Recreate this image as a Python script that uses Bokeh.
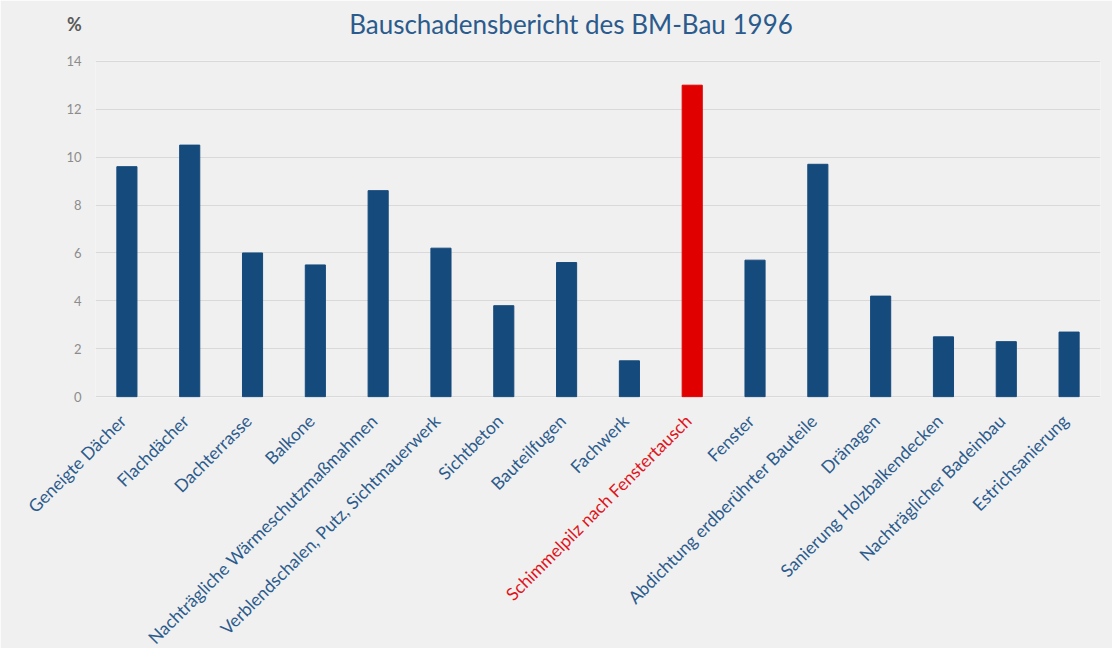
import math
from bokeh.plotting import figure
from bokeh.models import ColumnDataSource, FactorRange, Range1d, FixedTicker
from bokeh.core.properties import value
from bokeh.embed import file_html
from bokeh.resources import INLINE

categories = [
    "Geneigte Dächer", "Flachdächer", "Dachterrasse", "Balkone",
    "Nachträgliche Wärmeschutzmaßmahmen", "Verblendschalen, Putz, Sichtmauerwerk",
    "Sichtbeton", "Bauteilfugen", "Fachwerk", "Schimmelpilz nach Fenstertausch",
    "Fenster", "Abdichtung erdberührter Bauteile", "Dränagen",
    "Sanierung Holzbalkendecken", "Nachträglicher Badeinbau", "Estrichsanierung",
]
values = [9.6, 10.5, 6.0, 5.5, 8.6, 6.2, 3.8, 5.6, 1.5, 13.0, 5.7, 9.7, 4.2, 2.5, 2.3, 2.7]
highlight = "Schimmelpilz nach Fenstertausch"
y_ticks = [0, 2, 4, 6, 8, 10, 12, 14]
title_text = "Bauschadensbericht des BM-Bau 1996"
unit_text = "%"

BLUE = "#154a7c"
RED = "#e00000"
TEXT_BLUE = "#2b5b8c"
TEXT_RED = "#e0141c"
BG = "#f0f0f0"
FONT = "Lato"

bar_colors = [RED if c == highlight else BLUE for c in categories]
label_colors = [TEXT_RED if c == highlight else TEXT_BLUE for c in categories]

src = ColumnDataSource(dict(cat=categories, val=values, color=bar_colors,
                            lcolor=label_colors, base=[0] * len(categories)))

p = figure(
    width=1112, height=648,
    x_range=FactorRange(*categories, range_padding=0),
    y_range=Range1d(-0.03, 14.03),
    output_backend="svg", toolbar_location=None,
    min_border_left=95, min_border_right=12, min_border_top=60, min_border_bottom=251,
)
p.background_fill_color = BG
p.border_fill_color = BG
p.outline_line_color = None

p.vbar(x="cat", top="val", width=0.32, fill_color="color", line_color="color", source=src)

p.xaxis.visible = False
p.xgrid.grid_line_color = None

yax = p.yaxis[0]
yax.ticker = FixedTicker(ticks=y_ticks)
yax.axis_line_color = None
yax.major_tick_line_color = None
yax.minor_tick_line_color = None
yax.major_tick_out = 0
yax.major_tick_in = 0
yax.major_label_standoff = 14
yax.major_label_text_font = FONT
yax.major_label_text_font_size = "13px"
yax.major_label_text_color = "#8c8c8c"

p.ygrid.ticker = FixedTicker(ticks=y_ticks)
p.ygrid.grid_line_color = "#d9d9d9"
p.ygrid.grid_line_width = 1.2

# category labels (rotated), drawn as an unclipped overlay
p.text(x="cat", y="base", text="cat", source=src, level="overlay",
       angle=math.pi / 4, text_align="right", text_baseline="middle",
       x_offset=-4, y_offset=21,
       text_font=value(FONT), text_font_size="17.5px", text_color="lcolor")

# title and unit
p.text(x=[len(categories) / 2], y=[y_ticks[-1]], text=[title_text], level="overlay",
       x_offset=-27, y_offset=-37, text_align="center", text_baseline="middle",
       text_font=value(FONT), text_font_size="26px", text_color=TEXT_BLUE)
p.text(x=[0], y=[y_ticks[-1]], text=[unit_text], level="overlay",
       x_offset=-21, y_offset=-37, text_align="center", text_baseline="middle",
       text_font=value(FONT), text_font_size="18px", text_font_style="bold",
       text_color="#595959")

html = file_html(p, INLINE)
open("out.html", "w").write(html)
